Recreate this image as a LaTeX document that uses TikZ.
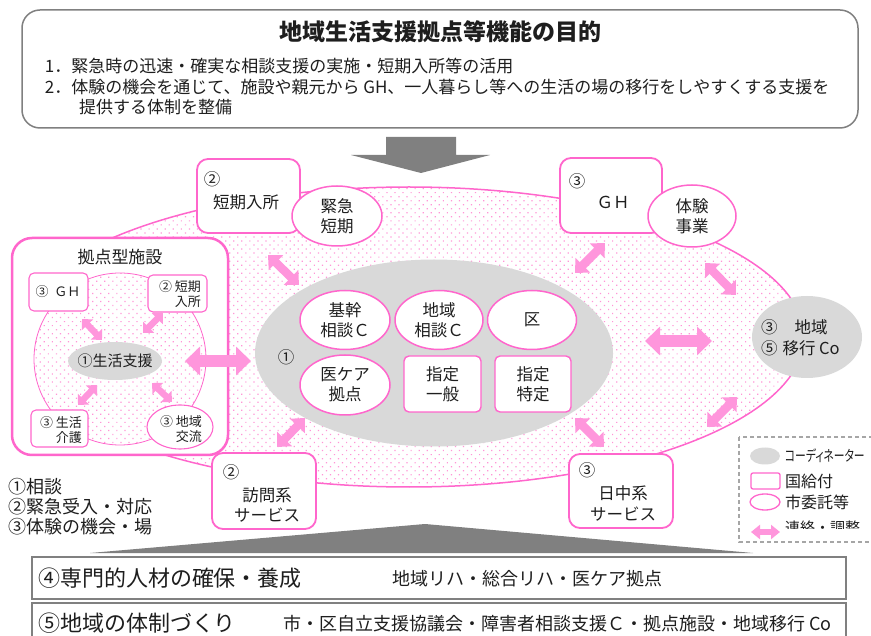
\documentclass[tikz,border=0pt]{standalone}
\usepackage{fontspec}
\usepackage{graphicx}
\setmainfont{Noto Sans CJK JP}
\newfontfamily\palt{Noto Sans CJK JP}[RawFeature=+palt]
\usetikzlibrary{shapes.geometric,arrows.meta,patterns.meta}
\definecolor{pk}{RGB}{255,102,204}
\definecolor{pkarrow}{RGB}{255,150,220}
\definecolor{pkdot}{RGB}{255,150,215}
\definecolor{gr}{RGB}{128,128,128}
\definecolor{lg}{RGB}{217,217,217}
\definecolor{txt}{RGB}{30,30,30}
\newcommand{\fsz}[2]{\fontsize{#1}{#2}\selectfont}
\begin{document}
\begin{tikzpicture}[x=1pt,y=-1pt,
  every node/.style={text=txt, inner sep=0pt, outer sep=0pt},
  pkbox/.style={draw=pk, line width=1.8pt, rounded corners=11pt, fill=white},
  pksmall/.style={draw=pk, line width=1.1pt, rounded corners=5pt, fill=white},
  pkell/.style={ellipse, draw=pk, line width=1.5pt, fill=white},
  pkellsmall/.style={ellipse, draw=pk, line width=1.1pt, fill=white},
  grell/.style={ellipse, fill=lg},
  dotzone/.style={pattern={Dots[distance=5.7pt,angle=45,radius=0.85pt]}, pattern color=pkdot},
  bigarr/.style={draw=pkarrow, line width=12pt, {Triangle[width=28pt,length=15pt]}-{Triangle[width=28pt,length=15pt]}},
  diagarr/.style={draw=pkarrow, line width=8.5pt, {Triangle[width=20pt,length=11pt]}-{Triangle[width=20pt,length=11pt]}},
  smallarr/.style={draw=pkarrow, line width=6.5pt, {Triangle[width=15pt,length=8pt]}-{Triangle[width=15pt,length=8pt]}},
  legarr/.style={draw=pkarrow, line width=6pt, {Triangle[width=14pt,length=9pt]}-{Triangle[width=14pt,length=9pt]}},
  midtxt/.style={font=\fsz{16.5}{20}, align=center},
  smalltxt/.style={font=\fsz{13}{15}, align=right},
  bottombox/.style={draw=gr, line width=2pt, minimum width=814pt, anchor=north west},
]
\useasboundingbox (0,0) rectangle (871,636);
\fill[white] (0,0) rectangle (871,636);

% ---------- top purpose box ----------
\node[draw=gr, line width=1.5pt, rounded corners=18pt, minimum width=836pt, minimum height=118pt] (purpose) at (440,69) {};
\node[font=\fsz{23}{26}\bfseries] (title) at (440,32) {地域生活支援拠点等機能の目的};
\node[anchor=west, font=\fsz{17}{20}] (l1) at (45,66) {1．緊急時の迅速・確実な相談支援の実施・短期入所等の活用};
\node[anchor=west, font=\fsz{17}{20}] (l2) at (45,87) {2．体験の機会を通じて、施設や親元から GH、一人暮らし等への生活の場の移行をしやすくする支援を};
\node[anchor=west, font=\fsz{17}{20}] (l3) at (79,107) {提供する体制を整備};

% down arrow
\fill[gr] (386,137) -- (456,137) -- (456,155) -- (490,155) -- (421,173) -- (351,155) -- (386,155) -- cycle;

% ---------- big dotted zone ----------
\node[ellipse, draw=pk, line width=1.5pt, dotzone, minimum width=790pt, minimum height=300pt] (zone) at (409,337) {};

% ---------- kyoten facility ----------
\node[draw=pk, line width=2.5pt, rounded corners=20pt, fill=white, minimum width=216pt, minimum height=217pt] (kyoten) at (120,346.5) {};
\node[font=\fsz{17}{20}] (kyotentitle) at (120,257) {拠点型施設};
\node[circle, draw=pk, line width=0.8pt, dotzone, minimum size=172pt] (kcirc) at (120,359) {};
\node[pksmall, minimum width=59pt, minimum height=38pt] (kgh) at (58.5,292) {};
\node[font=\fsz{13}{15}] at (58,292) {③\hspace{6pt}ＧＨ};
\node[pksmall, minimum width=59pt, minimum height=37pt] (ktanki) at (177.5,293.5) {};
\node[smalltxt] at (180,294) {② 短期\\入所};
\node[pksmall, minimum width=57pt, minimum height=37pt] (kkaigo) at (59.5,428.5) {};
\node[smalltxt] at (61,430) {③ 生活\\介護};
\node[pkellsmall, minimum width=66pt, minimum height=44pt] (kkoryu) at (180,427) {};
\node[smalltxt] at (181,429) {③ 地域\\交流};
\node[grell, minimum width=94pt, minimum height=38pt] (kseikatsu) at (115,361) {};
\node[font=\fsz{15}{18}] at (115,361) {①生活支援};

\coordinate (ka1) at (82,319);  \coordinate (kb1) at (102,340);
\coordinate (ka2) at (163,313); \coordinate (kb2) at (143,333);
\coordinate (ka3) at (78,405);  \coordinate (kb3) at (97,385);
\coordinate (ka4) at (152,383); \coordinate (kb4) at (172,402);
\draw[smallarr] (ka1) -- (kb1);
\draw[smallarr] (ka2) -- (kb2);
\draw[smallarr] (ka3) -- (kb3);
\draw[smallarr] (ka4) -- (kb4);

% ---------- central coordinator ellipse ----------
\node[grell, minimum width=358pt, minimum height=187pt] (center) at (434,353) {};
\node[font=\fsz{16.5}{20}] at (286,357) {①};
\node[pkell, minimum width=90pt, minimum height=59pt, midtxt] (kikan) at (345,320) {基幹\\相談Ｃ};
\node[pkell, minimum width=88pt, minimum height=59pt, midtxt] (chiiki) at (439,320) {地域\\相談Ｃ};
\node[pkell, minimum width=89pt, minimum height=59pt, midtxt] (ku) at (532,320) {区};
\node[pkell, minimum width=90pt, minimum height=60pt, midtxt] (ikea) at (345,385) {医ケア\\拠点};
\node[pksmall, line width=1.4pt, minimum width=77pt, minimum height=56pt, midtxt] (ippan) at (442.5,384) {指定\\一般};
\node[pksmall, line width=1.4pt, minimum width=76pt, minimum height=56pt, midtxt] (tokutei) at (533,384) {指定\\特定};

% ---------- outer nodes ----------
\node[pkbox, minimum width=103pt, minimum height=74pt] (tanki) at (248.5,196) {};
\node[font=\fsz{16.5}{20}] at (212,179) {②};
\node[font=\fsz{16.5}{20}] at (246,202) {短期入所};
\node[pkell, minimum width=90pt, minimum height=60pt, midtxt] (kinkyu) at (337,216) {緊急\\短期};

\node[pkbox, minimum width=102pt, minimum height=75pt] (gh) at (611,195.5) {};
\node[font=\fsz{16.5}{20}] at (577,181) {③};
\node[font=\fsz{16.5}{20}] at (613,202) {ＧＨ};
\node[pkell, minimum width=88pt, minimum height=62pt, midtxt] (taiken) at (692,216) {体験\\事業};

\node[grell, minimum width=110pt, minimum height=82pt] (ikou) at (807,337) {};
\node[anchor=west, font=\fsz{16.5}{20}] at (761,327) {③\hspace{17pt}地域};
\node[anchor=west, font=\fsz{16.5}{20}] at (761,348) {⑤\hspace{5pt}移行 Co};

\node[pkbox, minimum width=104pt, minimum height=76pt] (houmon) at (264,491) {};
\node[font=\fsz{16.5}{20}] at (231,472) {②};
\node[font=\fsz{16.5}{20}] at (267,495) {訪問系};
\node[font=\fsz{16.5}{20}] at (267,515) {サービス};

\node[pkbox, minimum width=104pt, minimum height=74pt] (nicchu) at (621,491) {};
\node[font=\fsz{16.5}{20}] at (587,470) {③};
\node[font=\fsz{16.5}{20}] at (623,493) {日中系};
\node[font=\fsz{16.5}{20}] at (623,514) {サービス};

% ---------- pink arrows ----------
\coordinate (hA) at (185,361); \coordinate (hB) at (251,361);
\draw[bigarr] (hA) -- (hB);
\coordinate (rA) at (645,341); \coordinate (rB) at (712,341);
\draw[bigarr] (rA) -- (rB);
\coordinate (tlA) at (268,255); \coordinate (tlB) at (299,285);
\draw[diagarr] (tlA) -- (tlB);
\coordinate (trA) at (575,273); \coordinate (trB) at (605,243);
\draw[diagarr] (trA) -- (trB);
\coordinate (tkA) at (705,263); \coordinate (tkB) at (736,295);
\draw[diagarr] (tkA) -- (tkB);
\coordinate (rbA) at (707,427); \coordinate (rbB) at (737,397);
\draw[diagarr] (rbA) -- (rbB);
\coordinate (brA) at (575,418); \coordinate (brB) at (604,447);
\draw[diagarr] (brA) -- (brB);
\coordinate (blA) at (277,447); \coordinate (blB) at (305,418);
\draw[diagarr] (blA) -- (blB);

% ---------- left list ----------
\node[anchor=west, font=\fsz{18}{20}] (li1) at (9,487) {①相談};
\node[anchor=west, font=\fsz{18}{20}] (li2) at (9,507) {②緊急受入・対応};
\node[anchor=west, font=\fsz{18}{20}] (li3) at (9,527) {③体験の機会・場};

% ---------- legend ----------
\draw[draw=gr!70, dashed, dash pattern=on 4pt off 3pt, line width=1.2pt] (739,437) rectangle (890,542);
\node[grell, minimum width=30pt, minimum height=17pt] (lgell) at (765,456) {};
\node[anchor=west, font=\palt\fsz{15}{18}] at (785,456) {\scalebox{0.72}[1]{コーディネーター}};
\node[pksmall, line width=1.3pt, rounded corners=2pt, minimum width=29pt, minimum height=16pt] (lgbox) at (765.5,481) {};
\node[anchor=west, font=\fsz{16}{18}] at (785,481) {国給付};
\node[pkellsmall, line width=1.3pt, minimum width=30pt, minimum height=16pt] (lgpk) at (765,502) {};
\node[anchor=west, font=\fsz{16}{18}] at (785,502) {市委託等};
\coordinate (lgA) at (751,532); \coordinate (lgB) at (780,532);
\draw[legarr] (lgA) -- (lgB);
\begin{scope}
\clip (782,505) rectangle (871,528);
\node[anchor=west, font=\fsz{15}{18}] (lgtxt) at (785,528) {連絡・調整};
\end{scope}

% ---------- bottom ----------
\fill[gr] (90,553) -- (425,524) -- (753,553) -- cycle;
\node[bottombox, minimum height=42pt] (b4) at (32,557) {};
\node[anchor=west, font=\fsz{22}{25}] at (38,578) {④専門的人材の確保・養成};
\node[anchor=west, font=\fsz{18}{20}] at (392,579) {地域リハ・総合リハ・医ケア拠点};
\node[bottombox, minimum height=45pt] (b5) at (32,603) {};
\node[anchor=west, font=\fsz{22}{25}] at (38,623) {⑤地域の体制づくり};
\node[anchor=west, font=\fsz{18}{20}] at (283,624) {市・区自立支援協議会・障害者相談支援Ｃ・拠点施設・地域移行 Co};
\end{tikzpicture}
\end{document}
